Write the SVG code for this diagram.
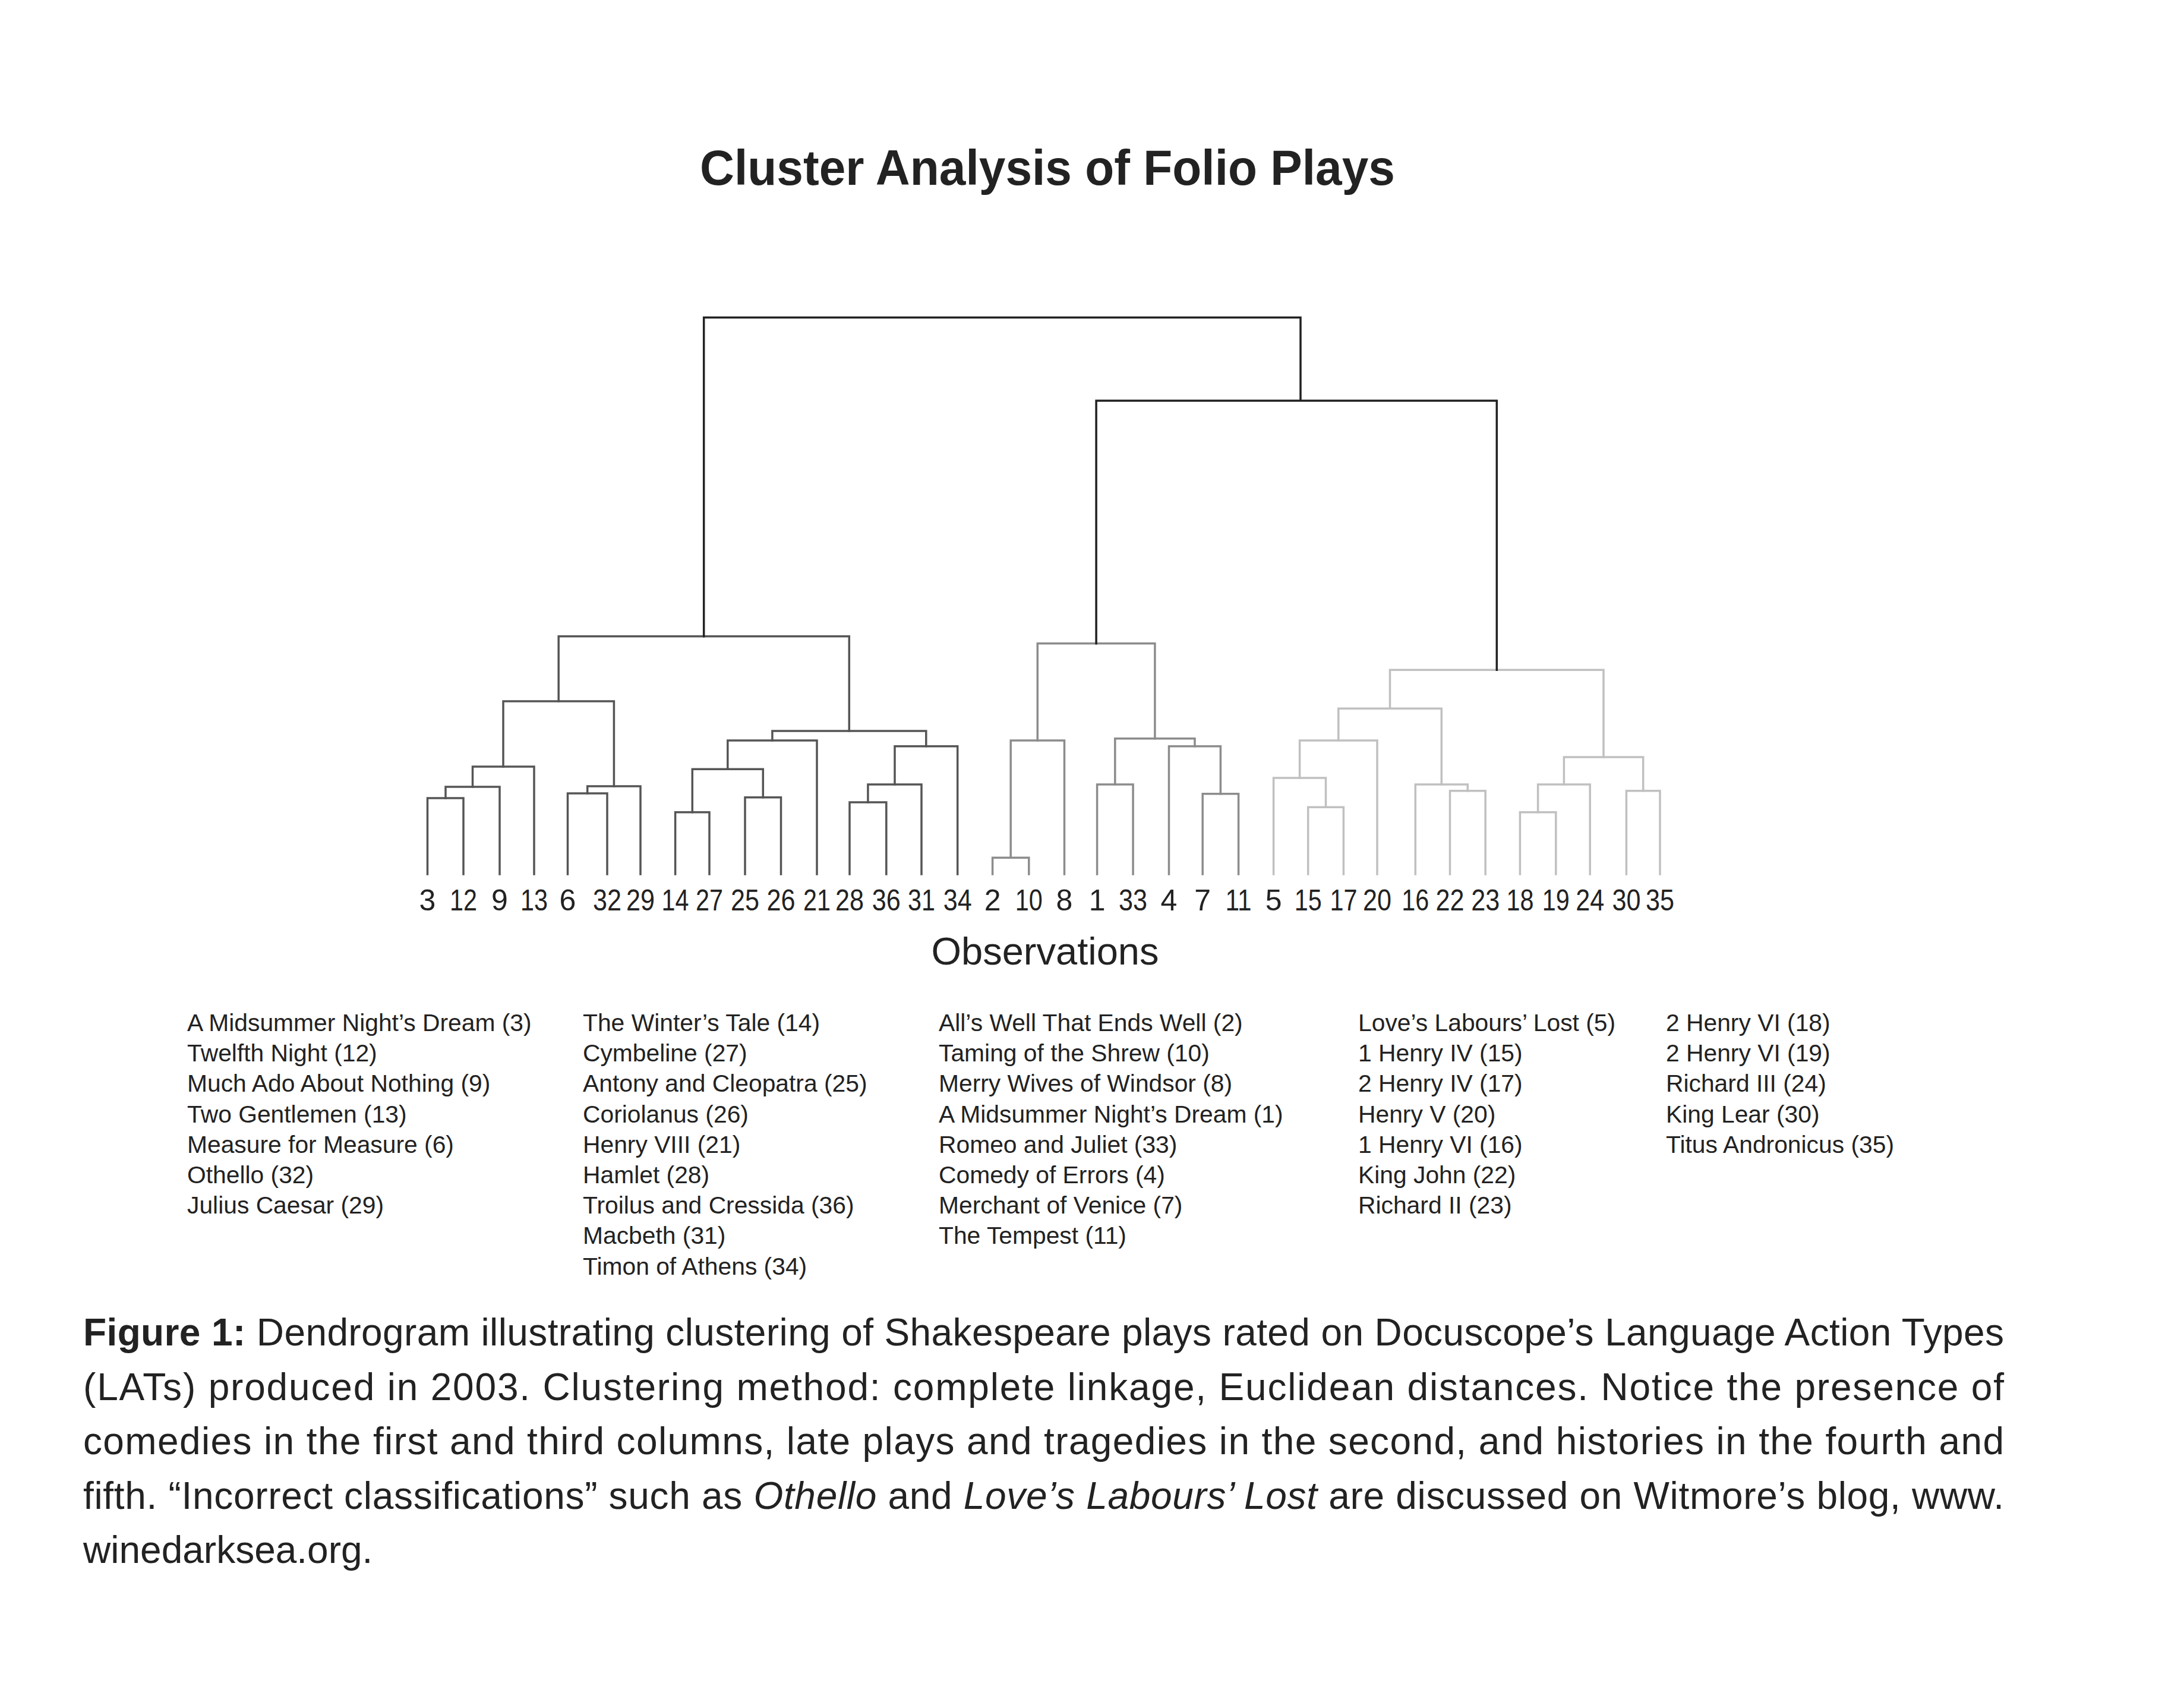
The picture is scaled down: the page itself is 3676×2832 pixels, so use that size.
<svg xmlns="http://www.w3.org/2000/svg" width="3676" height="2832" viewBox="0 0 3676 2832">
<style>
text { font-family: "Liberation Sans", Arial, sans-serif; fill: #222; }
.title { font-size: 84px; font-weight: bold; text-anchor: middle; }
.axis { font-size: 65px; text-anchor: middle; }
.leaf { font-size: 50px; text-anchor: middle; }
.leg { font-size: 40.8px; }
.cap { font-size: 64px; }
.b { font-weight: bold; }
.i { font-style: italic; }
path { fill: none; stroke-width: 3.5; stroke-linecap: square; stroke-linejoin: miter; }
.c0 { stroke: #222; }
.c1 { stroke: #555; }
.c2 { stroke: #8c8c8c; }
.c3 { stroke: #c0c0c0; }
</style>
<rect width="3676" height="2832" fill="#fff"/>
<g id="title"><text class="title" x="1763" y="311" textLength="1170" lengthAdjust="spacingAndGlyphs">Cluster Analysis of Folio Plays</text></g>

<g id="connectors">
  <g class="grp-c1">
    <path class="c1" d="M719.5,1471 V1343 H780 V1471"/>
    <path class="c1" d="M750,1343 V1324 H841 V1471"/>
    <path class="c1" d="M795.5,1324 V1290 H899 V1471"/>
    <path class="c1" d="M955.5,1471 V1335 H1022 V1471"/>
    <path class="c1" d="M988.7,1335 V1323 H1078 V1471"/>
    <path class="c1" d="M847,1290 V1180 H1033.4 V1323"/>
    <path class="c1" d="M1136.6,1471 V1366.7 H1194 V1471"/>
    <path class="c1" d="M1254,1471 V1341.7 H1314.5 V1471"/>
    <path class="c1" d="M1165.3,1366.7 V1294.3 H1284.3 V1341.7"/>
    <path class="c1" d="M1224.8,1294.3 V1246 H1375 V1471"/>
    <path class="c1" d="M1430,1471 V1350 H1491.8 V1471"/>
    <path class="c1" d="M1460.9,1350 V1320 H1551 V1471"/>
    <path class="c1" d="M1506,1320 V1255.7 H1611.7 V1471"/>
    <path class="c1" d="M1299.9,1246 V1230 H1558.8 V1255.7"/>
    <path class="c1" d="M940.2,1180 V1070.7 H1429.3 V1230"/>
  </g>
  <g class="grp-c2">
    <path class="c2" d="M1670.6,1471 V1443.3 H1731.8 V1471"/>
    <path class="c2" d="M1701.2,1443.3 V1246 H1791.5 V1471"/>
    <path class="c2" d="M1846.6,1471 V1320 H1907.1 V1471"/>
    <path class="c2" d="M2024.2,1471 V1335.7 H2084.6 V1471"/>
    <path class="c2" d="M1967.5,1471 V1255.7 H2054.4 V1335.7"/>
    <path class="c2" d="M1876.8,1320 V1242.7 H2011 V1255.7"/>
    <path class="c2" d="M1746.3,1246 V1082.7 H1943.9 V1242.7"/>
  </g>
  <g class="grp-c3">
    <path class="c3" d="M2201.7,1471 V1358.3 H2261.4 V1471"/>
    <path class="c3" d="M2143.6,1471 V1309 H2231.5 V1358.3"/>
    <path class="c3" d="M2187.6,1309 V1246 H2318 V1471"/>
    <path class="c3" d="M2440.5,1471 V1330.7 H2500.2 V1471"/>
    <path class="c3" d="M2382.3,1471 V1320 H2470.3 V1330.7"/>
    <path class="c3" d="M2252.8,1246 V1192.3 H2426.3 V1320"/>
    <path class="c3" d="M2558.4,1471 V1366.7 H2618.8 V1471"/>
    <path class="c3" d="M2588.6,1366.7 V1320 H2676.2 V1471"/>
    <path class="c3" d="M2737.4,1471 V1330.7 H2794 V1471"/>
    <path class="c3" d="M2632.4,1320 V1274 H2765.7 V1330.7"/>
    <path class="c3" d="M2339.5,1192.3 V1127.3 H2699 V1274"/>
  </g>
  <g class="grp-c0">
    <path class="c0" d="M1184.7,1070.7 V534.3 H2189 V674.3"/>
    <path class="c0" d="M1845.1,1082.7 V674.3 H2519.3 V1127.3"/>
  </g>
</g>

<g id="leaves">
  <g id="leaf-3"><text class="leaf" x="719.5" y="1532">3</text></g>
  <g id="leaf-12"><text class="leaf" x="780" y="1532" textLength="46" lengthAdjust="spacingAndGlyphs">12</text></g>
  <g id="leaf-9"><text class="leaf" x="841" y="1532">9</text></g>
  <g id="leaf-13"><text class="leaf" x="899" y="1532" textLength="46" lengthAdjust="spacingAndGlyphs">13</text></g>
  <g id="leaf-6"><text class="leaf" x="955.5" y="1532">6</text></g>
  <g id="leaf-32"><text class="leaf" x="1022" y="1532" textLength="48" lengthAdjust="spacingAndGlyphs">32</text></g>
  <g id="leaf-29"><text class="leaf" x="1078" y="1532" textLength="48" lengthAdjust="spacingAndGlyphs">29</text></g>
  <g id="leaf-14"><text class="leaf" x="1136.6" y="1532" textLength="46" lengthAdjust="spacingAndGlyphs">14</text></g>
  <g id="leaf-27"><text class="leaf" x="1194" y="1532" textLength="46" lengthAdjust="spacingAndGlyphs">27</text></g>
  <g id="leaf-25"><text class="leaf" x="1254" y="1532" textLength="48" lengthAdjust="spacingAndGlyphs">25</text></g>
  <g id="leaf-26"><text class="leaf" x="1314.5" y="1532" textLength="48" lengthAdjust="spacingAndGlyphs">26</text></g>
  <g id="leaf-21"><text class="leaf" x="1375" y="1532" textLength="46" lengthAdjust="spacingAndGlyphs">21</text></g>
  <g id="leaf-28"><text class="leaf" x="1430" y="1532" textLength="48" lengthAdjust="spacingAndGlyphs">28</text></g>
  <g id="leaf-36"><text class="leaf" x="1491.8" y="1532" textLength="48" lengthAdjust="spacingAndGlyphs">36</text></g>
  <g id="leaf-31"><text class="leaf" x="1551" y="1532" textLength="46" lengthAdjust="spacingAndGlyphs">31</text></g>
  <g id="leaf-34"><text class="leaf" x="1611.7" y="1532" textLength="48" lengthAdjust="spacingAndGlyphs">34</text></g>
  <g id="leaf-2"><text class="leaf" x="1670.6" y="1532">2</text></g>
  <g id="leaf-10"><text class="leaf" x="1731.8" y="1532" textLength="46" lengthAdjust="spacingAndGlyphs">10</text></g>
  <g id="leaf-8"><text class="leaf" x="1791.5" y="1532">8</text></g>
  <g id="leaf-1"><text class="leaf" x="1846.6" y="1532">1</text></g>
  <g id="leaf-33"><text class="leaf" x="1907.1" y="1532" textLength="48" lengthAdjust="spacingAndGlyphs">33</text></g>
  <g id="leaf-4"><text class="leaf" x="1967.5" y="1532">4</text></g>
  <g id="leaf-7"><text class="leaf" x="2024.2" y="1532">7</text></g>
  <g id="leaf-11"><text class="leaf" x="2084.6" y="1532" textLength="44" lengthAdjust="spacingAndGlyphs">11</text></g>
  <g id="leaf-5"><text class="leaf" x="2143.6" y="1532">5</text></g>
  <g id="leaf-15"><text class="leaf" x="2201.7" y="1532" textLength="46" lengthAdjust="spacingAndGlyphs">15</text></g>
  <g id="leaf-17"><text class="leaf" x="2261.4" y="1532" textLength="46" lengthAdjust="spacingAndGlyphs">17</text></g>
  <g id="leaf-20"><text class="leaf" x="2318" y="1532" textLength="48" lengthAdjust="spacingAndGlyphs">20</text></g>
  <g id="leaf-16"><text class="leaf" x="2382.3" y="1532" textLength="46" lengthAdjust="spacingAndGlyphs">16</text></g>
  <g id="leaf-22"><text class="leaf" x="2440.5" y="1532" textLength="48" lengthAdjust="spacingAndGlyphs">22</text></g>
  <g id="leaf-23"><text class="leaf" x="2500.2" y="1532" textLength="48" lengthAdjust="spacingAndGlyphs">23</text></g>
  <g id="leaf-18"><text class="leaf" x="2558.4" y="1532" textLength="46" lengthAdjust="spacingAndGlyphs">18</text></g>
  <g id="leaf-19"><text class="leaf" x="2618.8" y="1532" textLength="46" lengthAdjust="spacingAndGlyphs">19</text></g>
  <g id="leaf-24"><text class="leaf" x="2676.2" y="1532" textLength="48" lengthAdjust="spacingAndGlyphs">24</text></g>
  <g id="leaf-30"><text class="leaf" x="2737.4" y="1532" textLength="48" lengthAdjust="spacingAndGlyphs">30</text></g>
  <g id="leaf-35"><text class="leaf" x="2794" y="1532" textLength="48" lengthAdjust="spacingAndGlyphs">35</text></g>
</g>

<g id="axis-label"><text class="axis" x="1759" y="1623">Observations</text></g>

<g id="legend-col1">
  <text class="leg" x="315" y="1735">A Midsummer Night’s Dream (3)</text>
  <text class="leg" x="315" y="1786.2">Twelfth Night (12)</text>
  <text class="leg" x="315" y="1837.4">Much Ado About Nothing (9)</text>
  <text class="leg" x="315" y="1888.6">Two Gentlemen (13)</text>
  <text class="leg" x="315" y="1939.8">Measure for Measure (6)</text>
  <text class="leg" x="315" y="1991">Othello (32)</text>
  <text class="leg" x="315" y="2042.2">Julius Caesar (29)</text>
</g>
<g id="legend-col2">
  <text class="leg" x="981" y="1735">The Winter’s Tale (14)</text>
  <text class="leg" x="981" y="1786.2">Cymbeline (27)</text>
  <text class="leg" x="981" y="1837.4">Antony and Cleopatra (25)</text>
  <text class="leg" x="981" y="1888.6">Coriolanus (26)</text>
  <text class="leg" x="981" y="1939.8">Henry VIII (21)</text>
  <text class="leg" x="981" y="1991">Hamlet (28)</text>
  <text class="leg" x="981" y="2042.2">Troilus and Cressida (36)</text>
  <text class="leg" x="981" y="2093.4">Macbeth (31)</text>
  <text class="leg" x="981" y="2144.6">Timon of Athens (34)</text>
</g>
<g id="legend-col3">
  <text class="leg" x="1580" y="1735">All’s Well That Ends Well (2)</text>
  <text class="leg" x="1580" y="1786.2">Taming of the Shrew (10)</text>
  <text class="leg" x="1580" y="1837.4">Merry Wives of Windsor (8)</text>
  <text class="leg" x="1580" y="1888.6">A Midsummer Night’s Dream (1)</text>
  <text class="leg" x="1580" y="1939.8">Romeo and Juliet (33)</text>
  <text class="leg" x="1580" y="1991">Comedy of Errors (4)</text>
  <text class="leg" x="1580" y="2042.2">Merchant of Venice (7)</text>
  <text class="leg" x="1580" y="2093.4">The Tempest (11)</text>
</g>
<g id="legend-col4">
  <text class="leg" x="2286" y="1735">Love’s Labours’ Lost (5)</text>
  <text class="leg" x="2286" y="1786.2">1 Henry IV (15)</text>
  <text class="leg" x="2286" y="1837.4">2 Henry IV (17)</text>
  <text class="leg" x="2286" y="1888.6">Henry V (20)</text>
  <text class="leg" x="2286" y="1939.8">1 Henry VI (16)</text>
  <text class="leg" x="2286" y="1991">King John (22)</text>
  <text class="leg" x="2286" y="2042.2">Richard II (23)</text>
</g>
<g id="legend-col5">
  <text class="leg" x="2804" y="1735">2 Henry VI (18)</text>
  <text class="leg" x="2804" y="1786.2">2 Henry VI (19)</text>
  <text class="leg" x="2804" y="1837.4">Richard III (24)</text>
  <text class="leg" x="2804" y="1888.6">King Lear (30)</text>
  <text class="leg" x="2804" y="1939.8">Titus Andronicus (35)</text>
</g>

<g id="caption">
  <text class="cap" x="140" y="2264" textLength="3233" lengthAdjust="spacing"><tspan class="b">Figure 1:</tspan> Dendrogram illustrating clustering of Shakespeare plays rated on Docuscope’s Language Action Types</text>
  <text class="cap" x="140" y="2355.5" textLength="3233" lengthAdjust="spacing">(LATs) produced in 2003. Clustering method: complete linkage, Euclidean distances. Notice the presence of</text>
  <text class="cap" x="140" y="2447" textLength="3233" lengthAdjust="spacing">comedies in the first and third columns, late plays and tragedies in the second, and histories in the fourth and</text>
  <text class="cap" x="140" y="2538.5" textLength="3233" lengthAdjust="spacing">fifth. “Incorrect classifications” such as <tspan class="i">Othello</tspan> and <tspan class="i">Love’s Labours’ Lost</tspan> are discussed on Witmore’s blog, www.</text>
  <text class="cap" x="140" y="2630">winedarksea.org.</text>
</g>
</svg>
